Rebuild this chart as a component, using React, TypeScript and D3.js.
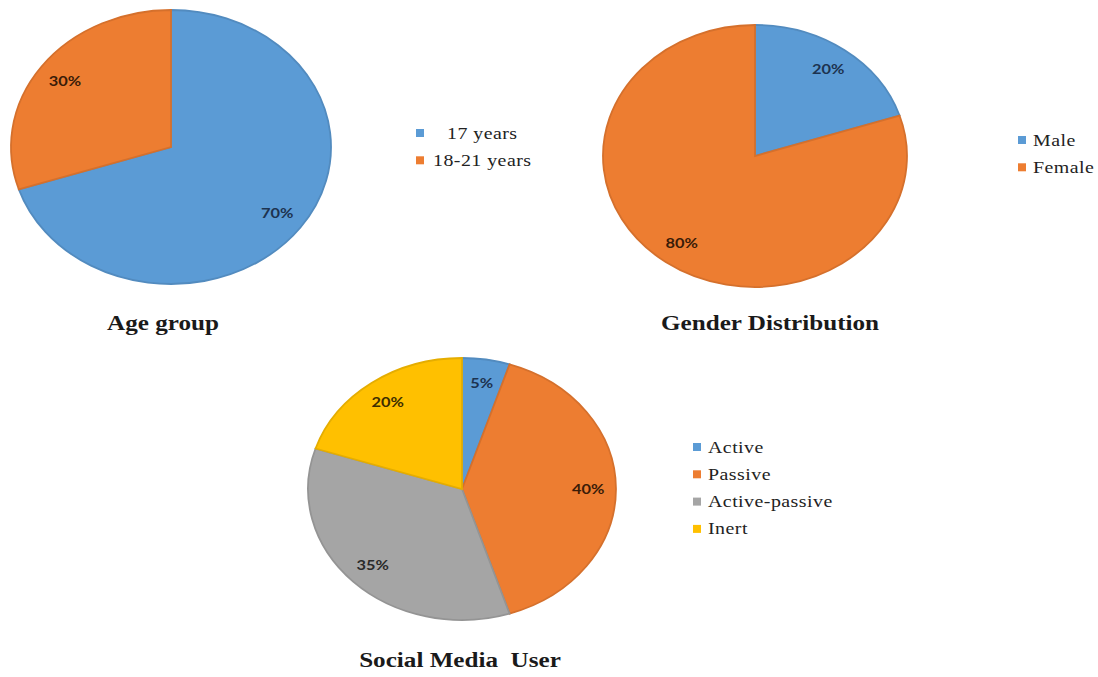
import React, { useEffect, useRef } from 'react';
import * as d3 from 'd3';

// chart data
const ageLabels = ['17 years', '18-21 years'];
const ageValues = [70, 30];

const genderLabels = ['Male', 'Female'];
const genderValues = [20, 80];

const socialLabels = ['Active', 'Passive', 'Active-passive', 'Inert'];
const socialValues = [5, 40, 35, 20];

const titles = ['Age group', 'Gender Distribution', 'Social Media  User'];

// office style palette
const colors = ['#5B9BD5', '#ED7D31', '#A5A5A5', '#FFC000'];
const labelColors = ['#1d3350', '#3a1c08', '#2a2a2a', '#3d2e00'];

// the picture is stretched horizontally, so text gets the same stretch
const SX = 1.17;
const W = 1098;
const H = 677;

// layout of the three panels
const panels = [
  {
    labels: ageLabels, values: ageValues, title: titles[0],
    cx: 171, cy: 147, rx: 160, ry: 137,
    titleX: 163, titleY: 330,
    legendX: 416, legendY: 133, textX: 433, indent: [14, 0]
  },
  {
    labels: genderLabels, values: genderValues, title: titles[1],
    cx: 755, cy: 156, rx: 152, ry: 131,
    titleX: 770, titleY: 330,
    legendX: 1018, legendY: 140, textX: 1033, indent: [0, 0]
  },
  {
    labels: socialLabels, values: socialValues, title: titles[2],
    cx: 462, cy: 489, rx: 154, ry: 131,
    titleX: 460, titleY: 667,
    legendX: 693, legendY: 447, textX: 708, indent: [0, 0, 0, 0]
  }
];

const App = () => {
  const node = useRef<SVGSVGElement | null>(null);

  useEffect(() => {
    const svg = d3.select(node.current);
    svg.selectAll('*').remove();

    const pie = d3.pie<number>().sort(null).value(d => d);
    const arc = d3.arc<d3.PieArcDatum<number>>().innerRadius(0).outerRadius(1);
    const labelArc = d3.arc<d3.PieArcDatum<number>>().innerRadius(0.82).outerRadius(0.82);

    panels.forEach(p => {
      const arcs = pie(p.values);

      // slices, drawn on a unit circle and stretched to an ellipse
      svg.append('g')
        .attr('transform', `translate(${p.cx},${p.cy}) scale(${p.rx},${p.ry})`)
        .selectAll('path')
        .data(arcs)
        .enter().append('path')
        .attr('d', arc)
        .attr('fill', (d, i) => colors[i])
        .attr('stroke', (d, i) => d3.color(colors[i])!.darker(0.3).formatHex())
        .attr('stroke-width', 1.8)
        .attr('vector-effect', 'non-scaling-stroke');

      // percent labels
      svg.append('g')
        .selectAll('text')
        .data(arcs)
        .enter().append('text')
        .attr('transform', d => {
          const [x, y] = labelArc.centroid(d);
          return `translate(${p.cx + x * p.rx},${p.cy + y * p.ry}) scale(${SX},1)`;
        })
        .attr('text-anchor', 'middle')
        .attr('dy', '0.36em')
        .style('font', 'bold 14px Lato, "Liberation Sans", sans-serif')
        .attr('fill', (d, i) => labelColors[i])
        .text(d => d.data + '%');

      // legend
      const legend = svg.append('g')
        .selectAll('g')
        .data(p.labels)
        .enter().append('g')
        .attr('transform', (d, i) => `translate(0,${p.legendY + i * 27.3})`);

      legend.append('rect')
        .attr('x', p.legendX)
        .attr('y', -4)
        .attr('width', 8)
        .attr('height', 8)
        .attr('fill', (d, i) => colors[i]);

      legend.append('text')
        .attr('transform', (d, i) => `translate(${p.textX + p.indent[i]},5.5) scale(${SX},1)`)
        .style('font', '17px "Liberation Serif", "Times New Roman", serif')
        .style('letter-spacing', '0.4px')
        .attr('fill', '#222')
        .text(d => d);

      // title under the pie
      svg.append('text')
        .attr('transform', `translate(${p.titleX},${p.titleY}) scale(${SX},1)`)
        .attr('text-anchor', 'middle')
        .style('font', 'bold 21.5px "Liberation Serif", "Times New Roman", serif')
        .style('white-space', 'pre')
        .attr('fill', '#1a1a1a')
        .text(p.title);
    });
  }, []);

  return (
    <svg
      ref={node}
      width={W}
      height={H}
      style={{ position: 'absolute', left: 0, top: 0, background: '#fff', display: 'block' }}
    />
  );
};

export default App;
